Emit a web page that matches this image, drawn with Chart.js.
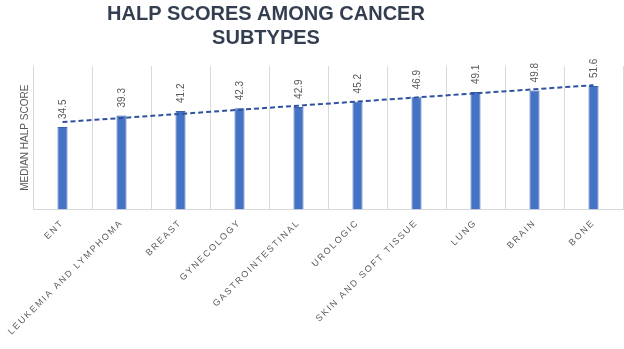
<!DOCTYPE html>
<html><head><meta charset="utf-8">
<script src="https://cdn.jsdelivr.net/npm/chart.js@4.4.1/dist/chart.umd.min.js"></script>
<style>html,body{margin:0;padding:0;background:#fff}#wrap{width:624px;height:349px;position:relative}canvas{display:block}</style>
</head><body><div id="wrap"><canvas id="c" width="624" height="349"></canvas></div>
<script>
const titleLines = ['HALP SCORES AMONG CANCER', 'SUBTYPES'];
const categories = ['ENT', 'LEUKEMIA AND LYMPHOMA', 'BREAST', 'GYNECOLOGY', 'GASTROINTESTINAL', 'UROLOGIC', 'SKIN AND SOFT TISSUE', 'LUNG', 'BRAIN', 'BONE'];
const medianScores = [34.5, 39.3, 41.2, 42.3, 42.9, 45.2, 46.9, 49.1, 49.8, 51.6];
const yAxisTitle = 'MEDIAN HALP SCORE';

// Linear trendline (least squares) over the category index, as in the source chart
function linearTrend(vals) {
  const n = vals.length;
  let sx = 0, sy = 0, sxy = 0, sxx = 0;
  vals.forEach((v, i) => { sx += i; sy += v; sxy += i * v; sxx += i * i; });
  const slope = (n * sxy - sx * sy) / (n * sxx - sx * sx);
  const icpt = (sy - slope * sx) / n;
  return vals.map((_, i) => icpt + slope * i);
}
const trendValues = linearTrend(medianScores);

const SPACING = '1.8px';
const spacingPlugin = {
  id: 'spacing',
  beforeLayout(chart) { chart.ctx.letterSpacing = SPACING; },
  afterLayout(chart) { chart.ctx.letterSpacing = '0px'; },
  beforeDraw(chart) {
    const s = chart.scales.x;
    if (!s._wrapped) {
      const orig = s.drawLabels;
      s.drawLabels = function (a) {
        const ctx = chart.ctx;
        ctx.save(); ctx.letterSpacing = SPACING; orig.call(this, a); ctx.restore();
      };
      s._wrapped = true;
    }
  }
};

const labelPlugin = {
  id: 'labels',
  afterDraw(chart) {
    const ctx = chart.ctx;
    ctx.save();
    ctx.letterSpacing = '0px';
    const meta = chart.getDatasetMeta(1);
    ctx.font = '10px "Liberation Sans", Arial, sans-serif';
    ctx.fillStyle = '#595959';
    meta.data.forEach((bar, i) => {
      ctx.save();
      ctx.translate(bar.x + 1, bar.y - 8);
      ctx.rotate(-Math.PI / 2);
      ctx.textAlign = 'left';
      ctx.textBaseline = 'middle';
      ctx.fillText(medianScores[i].toFixed(1), 0, 0);
      ctx.restore();
    });
    ctx.font = 'bold 20px "Liberation Sans", Arial, sans-serif';
    ctx.fillStyle = '#333F50';
    ctx.textAlign = 'center';
    ctx.textBaseline = 'alphabetic';
    ctx.fillText(titleLines[0], 266, 20);
    ctx.fillText(titleLines[1], 266, 44);
    ctx.restore();
  }
};

new Chart(document.getElementById('c'), {
  data: {
    labels: categories,
    datasets: [
      {
        type: 'line',
        label: 'Linear trend',
        data: trendValues,
        borderColor: '#2F52A0',
        borderWidth: 2,
        borderDash: [5, 3],
        pointRadius: 0,
        fill: false,
        order: 0
      },
      {
        type: 'bar',
        label: 'Median HALP score',
        data: medianScores,
        backgroundColor: '#4472C4',
        borderColor: '#3A62AE',
        borderWidth: 1,
        categoryPercentage: 1,
        barPercentage: 0.17,
        order: 1
      }
    ]
  },
  options: {
    responsive: false,
    animation: false,
    layout: { padding: { top: 66, right: 1, left: 0, bottom: 4 } },
    plugins: { legend: { display: false }, tooltip: { enabled: false }, title: { display: false } },
    scales: {
      x: {
        grid: { display: true, offset: true, color: '#D9D9D9', drawTicks: false },
        border: { display: true, color: '#D9D9D9' },
        ticks: {
          autoSkip: false, minRotation: 45, maxRotation: 45, padding: 8,
          color: '#595959',
          font: { size: 9, family: '"Liberation Sans", Arial, sans-serif' }
        }
      },
      y: {
        min: 0, max: 60,
        grid: { display: false, drawTicks: false },
        border: { display: false },
        ticks: { display: false },
        title: {
          display: true, text: yAxisTitle, color: '#595959',
          font: { size: 10, family: '"Liberation Sans", Arial, sans-serif' },
          padding: { top: 19, bottom: 2 }
        }
      }
    }
  },
  plugins: [spacingPlugin, labelPlugin]
});
</script>
</body></html>
